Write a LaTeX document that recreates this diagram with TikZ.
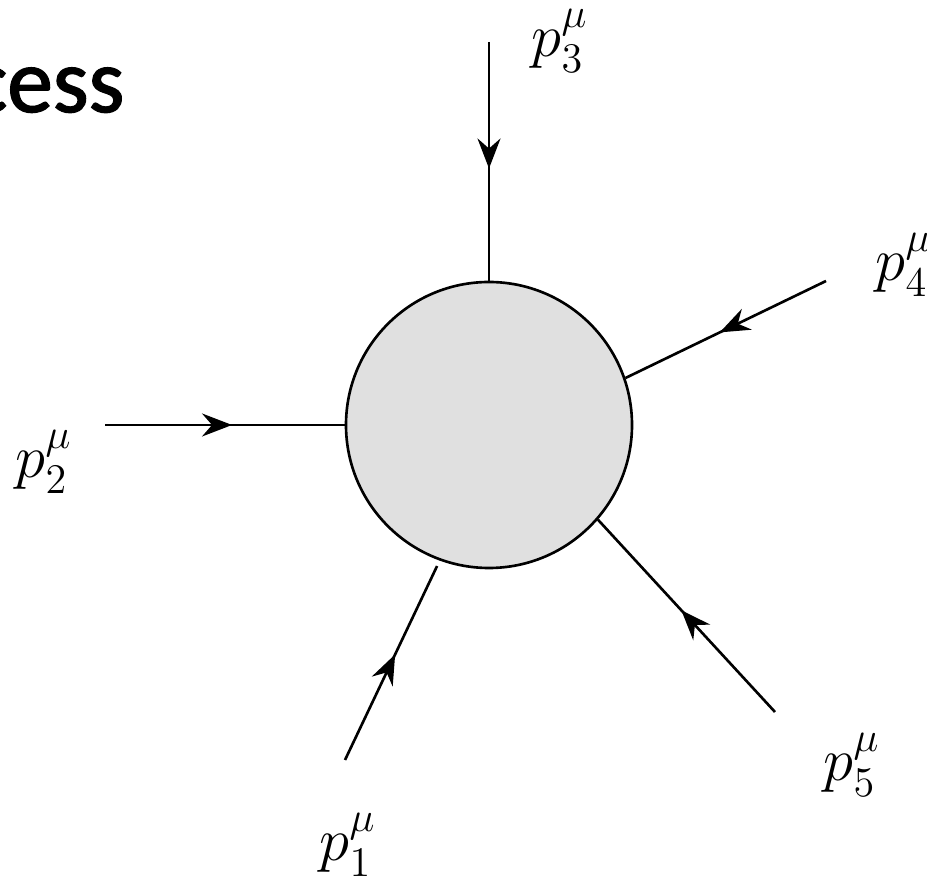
\documentclass[tikz,border=0pt]{standalone}
\usepackage{amsmath,amssymb}
\usepackage{fontspec}
\newfontfamily\titlefont{Carlito}[FakeBold=1.6]
\usepackage{tikz}
\usetikzlibrary{arrows.meta,decorations.markings}
\tikzset{
    fermion/.style={line width=0.75pt,postaction={decorate},
        decoration={markings,mark=at position 0.53 with {\arrow{Stealth[length=3mm,width=2.3mm,inset=1mm]}}}},
    lbl/.style={font=\LARGE,inner sep=0pt},
}

\begin{document}
\begin{tikzpicture}
    \useasboundingbox (0,0) rectangle (9.27,-8.76);
    \node[draw,circle,fill=black!12,line width=0.75pt,minimum size=2.86cm] at(4.89,-4.25)(blob){};
    \coordinate (e1) at (3.45,-7.60);
    \coordinate (e2) at (1.05,-4.25);
    \coordinate (e3) at (4.89,-0.42);
    \coordinate (e4) at (8.26,-2.81);
    \coordinate (e5) at (7.75,-7.12);
    \node[lbl] at(3.48,-8.45)(l1){$p_1^\mu$};
    \node[lbl] at(0.44,-4.62)(l2){$p_2^\mu$};
    \node[lbl] at(5.60,-0.41)(l3){$p_3^\mu$};
    \node[lbl] at(9.04,-2.65)(l4){$p_4^\mu$};
    \node[lbl] at(8.52,-7.65)(l5){$p_5^\mu$};
    \node[anchor=base east,inner sep=0pt,font=\titlefont\fontsize{26}{30}\selectfont] at(1.25,-1.12)(title){cess};
    \path
        (e1) edge[fermion,shorten >=0.06cm] (blob.250)
        (e2) edge[fermion] (blob.180)
        (e3) edge[fermion] (blob.90)
        (e4) edge[fermion] (blob.19)
        (e5) edge[fermion] (blob.319);
\end{tikzpicture}
\end{document}
